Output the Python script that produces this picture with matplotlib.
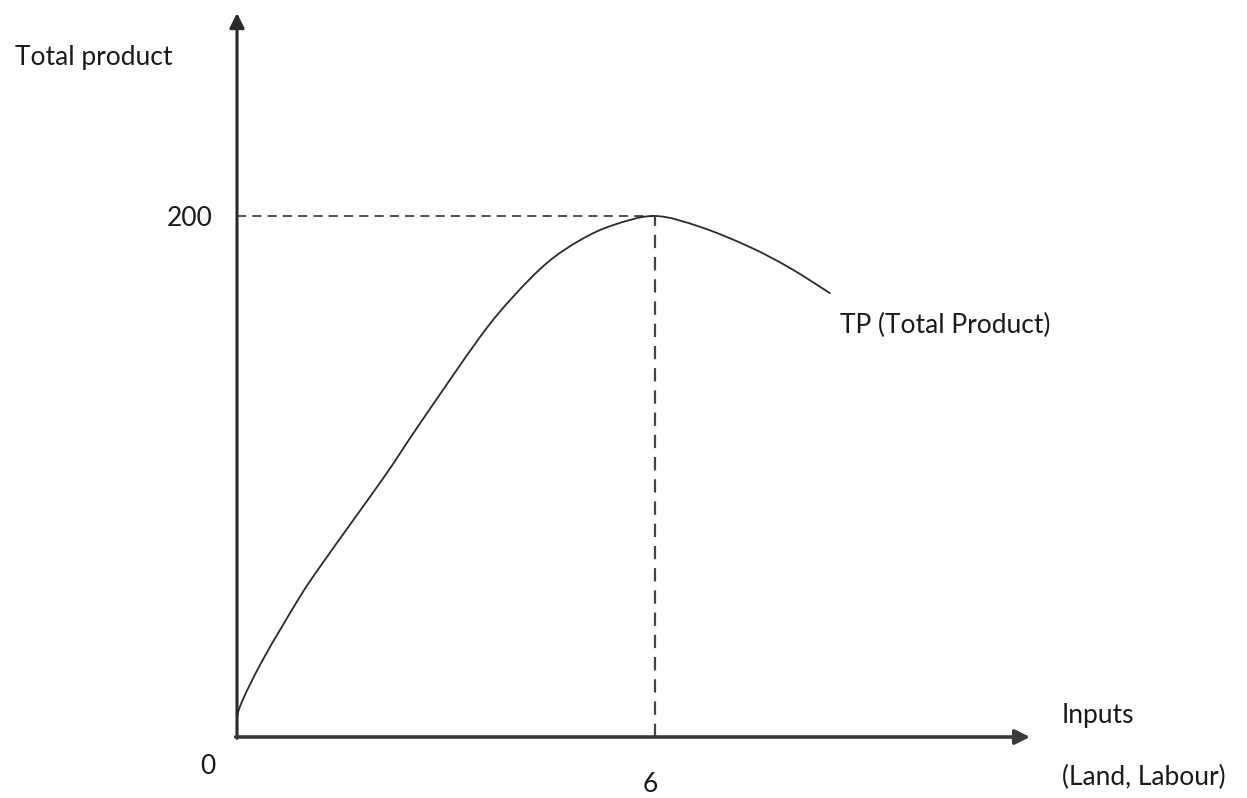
import matplotlib
matplotlib.use("Agg")
import matplotlib.pyplot as plt
from matplotlib.path import Path
from matplotlib.patches import PathPatch

# Total product curve: inputs vs. output
inputs = [0.0, 0.04, 0.37, 0.90, 1.19, 1.67, 2.15, 2.63, 3.49,
          3.96, 4.45, 4.93, 5.40, 6.0, 6.65, 7.36, 7.94, 8.51]
total_product = [3.5, 11.5, 29.6, 53.7, 65.3, 83.3, 101.3, 120.5,
                 153.6, 168.9, 182.0, 190.8, 196.5, 200.0, 195.8, 188.1, 180.0, 170.4]

peak_input = 6
peak_output = 200

W, H = 1247, 798
fig = plt.figure(figsize=(W / 100, H / 100), dpi=100)
ax = fig.add_axes([0, 0, 1, 1])

# pixel scale: origin at (237, 737), 6 units -> 418 px, 200 units -> 521 px
sx = (655 - 237) / 6
sy = (737 - 216) / 200
ax.set_xlim(-237 / sx, (W - 237) / sx)
ax.set_ylim(-(H - 737) / sy, 737 / sy)
ax.axis("off")

txt = dict(family="Lato", fontsize=19, color="#1a1a1a")

# axes with arrowheads
x_end = (1030 - 237) / sx
y_end = (737 - 13) / sy
ax.annotate("", xy=(0, y_end), xytext=(0, -0.5),
            arrowprops=dict(arrowstyle="-|>", mutation_scale=22, lw=2.2,
                            color="#2a2a2a", shrinkA=0, shrinkB=0))
ax.annotate("", xy=(x_end, 0), xytext=(-0.02, 0),
            arrowprops=dict(arrowstyle="-|>", mutation_scale=22, lw=2.6,
                            color="#3a3a3a", shrinkA=0, shrinkB=0))

# dashed guides to the peak
ax.plot([0, peak_input], [peak_output, peak_output], color="#222222",
        lw=1.1, dashes=(6, 4))
ax.plot([peak_input, peak_input], [0, peak_output], color="#444444",
        lw=1.6, dashes=(6, 4))


def smooth_path(xs, ys):
    """Cubic Bezier path through every point (Catmull-Rom tangents)."""
    pts = list(zip(xs, ys))
    verts = [pts[0]]
    codes = [Path.MOVETO]
    n = len(pts)
    for i in range(n - 1):
        p0 = pts[i - 1] if i > 0 else pts[i]
        p1 = pts[i]
        p2 = pts[i + 1]
        p3 = pts[i + 2] if i + 2 < n else pts[i + 1]
        c1 = (p1[0] + (p2[0] - p0[0]) / 6, p1[1] + (p2[1] - p0[1]) / 6)
        c2 = (p2[0] - (p3[0] - p1[0]) / 6, p2[1] - (p3[1] - p1[1]) / 6)
        verts += [c1, c2, p2]
        codes += [Path.CURVE4] * 3
    return Path(verts, codes)


ax.add_patch(PathPatch(smooth_path(inputs, total_product), fill=False,
                       edgecolor="#2a2a2a", lw=1.3, capstyle="round"))

# labels
ax.text((15 - 237) / sx, (737 - 58) / sy, "Total product", ha="left", va="center", **txt)
ax.text((213 - 237) / sx, peak_output - 1, str(peak_output), ha="right", va="center", **txt)
ax.text((208 - 237) / sx, (737 - 767) / sy, "0", ha="center", va="center", **txt)
ax.text((650 - 237) / sx, (737 - 784) / sy, str(peak_input), ha="center", va="center", **txt)
ax.text((1062 - 237) / sx, (737 - 716) / sy, "Inputs", ha="left", va="center", **txt)
ax.text((1062 - 237) / sx, (737 - 777) / sy, "(Land, Labour)", ha="left", va="center", **txt)
ax.text((840 - 237) / sx, (737 - 325) / sy, "TP (Total Product)", ha="left", va="center", **txt)

fig.savefig("out.png", dpi=100, facecolor="white")
